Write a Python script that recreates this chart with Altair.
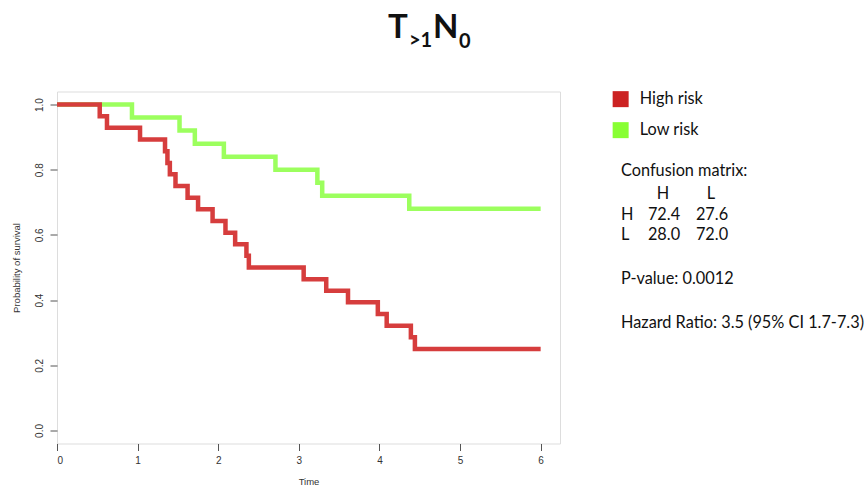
import altair as alt
import pandas as pd

# Kaplan-Meier step curves (time in years, survival probability)
high_time = [0, 0.53, 0.62, 1.03, 1.34, 1.37, 1.40, 1.47, 1.62, 1.75, 1.93, 2.09,
             2.21, 2.35, 2.38, 3.06, 3.34, 3.61, 3.98, 4.09, 4.39, 4.44, 6.0]
high_surv = [1.0, 0.964, 0.929, 0.893, 0.857, 0.821, 0.786, 0.75, 0.714, 0.679,
             0.643, 0.607, 0.571, 0.536, 0.5, 0.464, 0.429, 0.393, 0.357, 0.321,
             0.286, 0.25, 0.25]
low_time = [0, 0.93, 1.52, 1.71, 2.07, 2.71, 3.23, 3.29, 4.37, 6.0]
low_surv = [1.0, 0.96, 0.92, 0.88, 0.84, 0.80, 0.76, 0.72, 0.68, 0.68]

groups = ["High risk", "Low risk"]
legend_colors = ["#cc2222", "#88ff33"]
line_colors = ["#d63d3d", "#9cff5e"]

x_ticks = [0, 1, 2, 3, 4, 5, 6]
y_ticks = [0.0, 0.2, 0.4, 0.6, 0.8, 1.0]

cm_labels = ["H", "L"]
cm_values = [["72.4", "27.6"], ["28.0", "72.0"]]
p_value = "0.0012"
hazard_ratio = "3.5 (95% CI 1.7-7.3)"

df = pd.concat([
    pd.DataFrame({"time": high_time, "surv": high_surv, "group": groups[0]}),
    pd.DataFrame({"time": low_time, "surv": low_surv, "group": groups[1]}),
], ignore_index=True)

# plot area and outer margins (pixels)
W, H = 503, 352
LEFT, TOP = 57, 91.5
TOTAL_W, TOTAL_H = 864, 488

AXIS_FONT = "Liberation Sans"
TXT_FONT = "Lato"
TXT_SIZE = 16.3
GRAY = "#555555"

x_enc = alt.X(
    "time:Q",
    scale=alt.Scale(domain=[0, 6.24], nice=False, zero=False),
    axis=alt.Axis(values=x_ticks, title="Time", format="d", grid=False, domain=False,
                  tickSize=7, tickColor=GRAY, labelPadding=5, labelFontSize=10,
                  labelColor="#333333", labelFont=AXIS_FONT, titleFont=AXIS_FONT,
                  titleFontSize=9.5, titleFontWeight="normal", titleColor="#333333",
                  titlePadding=11),
)
y_enc = alt.Y(
    "surv:Q",
    scale=alt.Scale(domain=[-0.04, 1.04], nice=False, zero=False),
    axis=alt.Axis(values=y_ticks, title="Probability of survival", format=".1f",
                  grid=False, domain=False, tickSize=7, tickColor=GRAY,
                  labelAngle=270, labelAlign="center", labelBaseline="bottom",
                  labelPadding=6, labelFontSize=10, labelColor="#333333",
                  labelFont=AXIS_FONT, titleFont=AXIS_FONT, titleFontSize=9.5,
                  titleFontWeight="normal", titleColor="#333333", titlePadding=13),
)
color_enc = alt.Color(
    "group:N",
    scale=alt.Scale(domain=groups, range=legend_colors),
    legend=alt.Legend(
        title=None, orient="none", legendX=555.5, legendY=-0.5, padding=0,
        symbolType="square", symbolSize=256, symbolStrokeWidth=0,
        symbolOpacity=1, labelFont=TXT_FONT, labelFontSize=TXT_SIZE,
        labelColor="#111111", labelOffset=11, rowPadding=14,
    ),
)

# invisible squares carry the colour legend
legend_layer = alt.Chart(df).mark_square(size=1, opacity=0, filled=True).encode(
    x=x_enc, y=y_enc, color=color_enc
)

low_layer = alt.Chart(df).transform_filter(alt.datum.group == groups[1]).mark_line(
    interpolate="step-after", strokeWidth=4.5, color=line_colors[1]
).encode(x=x_enc, y=y_enc)

high_layer = alt.Chart(df).transform_filter(alt.datum.group == groups[0]).mark_line(
    interpolate="step-after", strokeWidth=4.5, color=line_colors[0]
).encode(x=x_enc, y=y_enc)


def label(text, x, y, size=TXT_SIZE, weight="normal", align="left", baseline="middle"):
    return alt.Chart(pd.DataFrame({"t": [text]})).mark_text(
        font=TXT_FONT, fontSize=size, fontWeight=weight, align=align,
        baseline=baseline, color="#111111",
    ).encode(text="t:N", x=alt.value(x - LEFT), y=alt.value(y - TOP))


# title T_{>1}N_0 built from main glyphs and subscripts
title_layers = [
    label("T", 388, 38, size=33, weight="bold", baseline="alphabetic"),
    label(">1", 409, 47, size=20, weight="bold", baseline="alphabetic"),
    label("N", 433, 38, size=33, weight="bold", baseline="alphabetic"),
    label("0", 459, 48, size=20, weight="bold", baseline="alphabetic"),
]

# side annotations: confusion matrix, p-value, hazard ratio
col_x = [663, 711]
row_y = [215, 235]
info_layers = [label("Confusion matrix:", 621, 171)]
for j, c in enumerate(cm_labels):
    info_layers.append(label(c, col_x[j], 194, align="center"))
for i, r in enumerate(cm_labels):
    info_layers.append(label(r, 621, row_y[i]))
    for j in range(2):
        info_layers.append(label(cm_values[i][j], col_x[j] + 1, row_y[i], align="center"))
info_layers.append(label(f"P-value: {p_value}", 621, 279))
info_layers.append(label(f"Hazard Ratio: {hazard_ratio}", 621, 323))

chart = alt.layer(legend_layer, low_layer, high_layer, *title_layers, *info_layers).properties(
    width=W, height=H,
    autosize=alt.AutoSizeParams(type="none"),
    padding={"left": LEFT, "top": TOP, "right": TOTAL_W - LEFT - W,
             "bottom": TOTAL_H - TOP - H},
).configure_view(stroke="#777777", strokeWidth=1.2).configure(background="white")

chart.save("out.html", embed_options={"renderer": "svg", "actions": False})
